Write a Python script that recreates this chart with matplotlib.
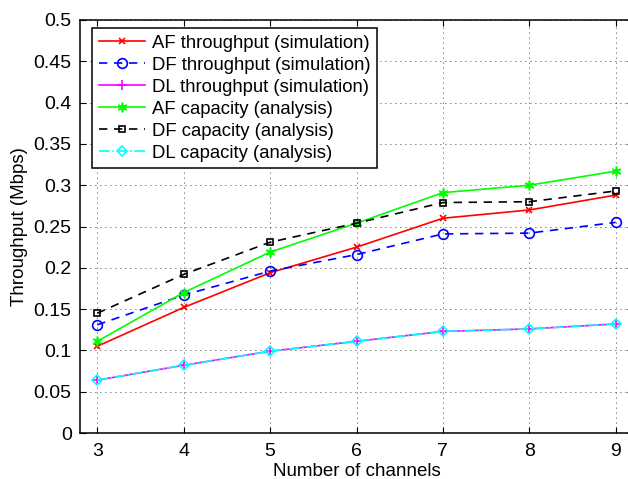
import numpy as np
import matplotlib.pyplot as plt

plt.rcParams['font.family'] = ['Liberation Sans', 'DejaVu Sans']

channels = [3, 4, 5, 6, 7, 8, 9]
af_throughput = [0.105, 0.152, 0.194, 0.225, 0.260, 0.270, 0.288]
df_throughput = [0.131, 0.167, 0.196, 0.216, 0.241, 0.242, 0.255]
dl_throughput = [0.064, 0.082, 0.099, 0.111, 0.123, 0.126, 0.132]
af_capacity = [0.111, 0.170, 0.219, 0.254, 0.291, 0.300, 0.317]
df_capacity = [0.145, 0.192, 0.231, 0.254, 0.279, 0.280, 0.293]
dl_capacity = [0.064, 0.082, 0.099, 0.111, 0.123, 0.126, 0.132]

yticks = np.arange(0, 0.501, 0.05)
ytick_labels = ['0', '0.05', '0.1', '0.15', '0.2', '0.25', '0.3', '0.35', '0.4', '0.45', '0.5']

ASTERISK = (6, 2, 0)


def main():
    fig = plt.figure(figsize=(6.28, 4.79), dpi=100)
    ax = fig.add_axes([80 / 628, 46 / 479, 553 / 628, 413 / 479])

    ax.plot(channels, af_throughput, color='#ff0000', ls='-', marker='x',
            ms=5, mew=1.2, lw=1.2, label='AF throughput (simulation)')
    ax.plot(channels, df_throughput, color='#0000ff', ls=(0, (5, 4)), marker='o',
            ms=7, mew=1.2, mfc='none', lw=1.2, label='DF throughput (simulation)')
    ax.plot(channels, dl_throughput, color='#ff00ff', ls='-', marker='+',
            ms=7, mew=1.2, lw=1.2, label='DL throughput (simulation)')
    ax.plot(channels, af_capacity, color='#00ff00', ls='-', marker=ASTERISK,
            ms=7, mew=1.2, lw=1.2, label='AF capacity (analysis)')
    ax.plot(channels, df_capacity, color='black', ls=(0, (5, 4)), marker='s',
            ms=5, mew=1.2, mfc='none', lw=1.2, label='DF capacity (analysis)')
    ax.plot(channels, dl_capacity, color='#00ffff', ls='-.', marker='D',
            ms=5.5, mew=1.2, mfc='none', lw=1.2, label='DL capacity (analysis)')

    ax.set_xlim(2.8, 9.2)
    ax.set_ylim(0, 0.5)
    ax.set_xticks(channels)
    ax.set_yticks(yticks)
    ax.set_yticklabels(ytick_labels)
    ax.tick_params(direction='in', labelsize=14, length=4)
    ax.tick_params(axis='x', pad=7)
    ax.tick_params(axis='y', pad=6)
    ax.tick_params(top=True, right=True)
    ax.grid(True, color='black', ls=(0, (1, 5)), lw=0.6)
    for s in ax.spines.values():
        s.set_linewidth(1.1)

    ax.set_xlabel('Number of channels', fontsize=13.5, labelpad=2)
    ax.set_ylabel('Throughput (Mbps)', fontsize=13.5, labelpad=4)

    leg = ax.legend(loc='upper left', bbox_to_anchor=(0.022, 0.98), fontsize=13.3,
                    handlelength=2.5, borderpad=0.35, labelspacing=0.27,
                    handletextpad=0.4, borderaxespad=0, fancybox=False,
                    framealpha=1)
    leg.get_frame().set_edgecolor('black')
    leg.get_frame().set_linewidth(1.1)

    fig.savefig('out.png', dpi=100)


if __name__ == '__main__':
    main()
